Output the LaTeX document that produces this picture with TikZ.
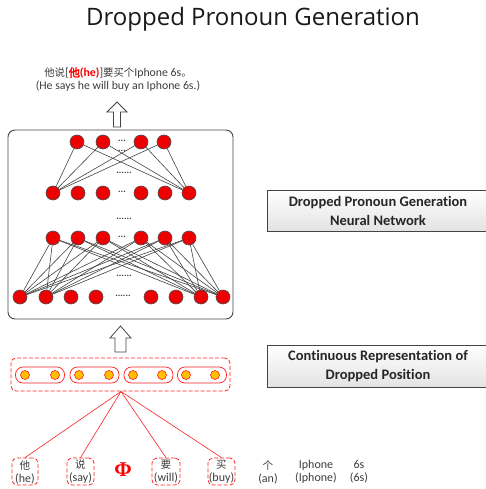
\documentclass[tikz,border=0pt]{standalone}
\usepackage{fontspec}
\setmainfont[Ligatures=NoCommon]{Carlito}
\newfontfamily\cjk[Scale=0.88]{Noto Sans CJK SC}
\newfontfamily\cjkbold[FakeBold=3,Scale=0.95]{Noto Sans CJK SC}
\newfontfamily\titlefont{Open Sans}
\newfontfamily\phifont{Liberation Serif}
\definecolor{txtgray}{HTML}{3C3C3C}
\definecolor{linegray}{HTML}{444444}
\definecolor{neuronred}{HTML}{EE0000}
\definecolor{orangefill}{HTML}{FFC000}
\definecolor{repred}{HTML}{FF2020}
\begin{document}
\begin{tikzpicture}[x=1pt,y=-1pt,
  neuron/.style={circle,fill=neuronred,draw=gray!60!black,line width=0.6pt,minimum size=14pt,inner sep=0pt},
  conn/.style={draw=linegray,line width=0.6pt},
  dotsnode/.style={text=txtgray,font=\fontsize{9.5}{9}\selectfont\bfseries,inner sep=0pt},
  hollow/.style={draw=linegray,fill=white,line width=0.8pt,line join=miter},
  netbox/.style={draw=linegray,fill=white,rounded corners=7pt,line width=0.9pt,minimum width=225pt,minimum height=189pt,inner sep=0pt},
  dashbox/.style={draw=repred,dashed,dash pattern=on 4pt off 2pt,rounded corners=5pt,line width=0.8pt,inner sep=0pt},
  pillbox/.style={draw=repred,rounded corners=7.5pt,line width=0.7pt,minimum width=49pt,minimum height=16pt,inner sep=0pt},
  orange/.style={circle,fill=orangefill,draw=repred,line width=0.6pt,minimum size=9pt,inner sep=0pt},
  redline/.style={draw=repred,line width=0.6pt},
  rbox/.style={draw=linegray,line width=0.8pt,top color=white,bottom color=gray!22,minimum width=222pt,align=center,inner sep=0pt,font=\fontsize{14.5}{19}\selectfont\bfseries,text=black!85},
  word/.style={align=center,text=txtgray,font=\fontsize{12}{13}\selectfont,inner sep=0pt},
  small/.style={text=txtgray,font=\fontsize{11.8}{12}\selectfont,inner sep=0pt}
]
\useasboundingbox (0,0) rectangle (486,489);

% title
\node (title) [font=\titlefont\fontsize{24}{26}\selectfont,text=black!90] at (253,19) {Dropped Pronoun Generation};

% top output text
\node (out1) [small] at (118,73) {{\cjk 他说}[{\color{red}{\cjkbold 他}\textbf{(he)}}]{\cjk 要买个}Iphone 6s{\cjk 。}};
\node (out2) [small] at (118,86) {(He says he will buy an Iphone 6s.)};

% arrow to output
\draw[hollow] (117,102) -- (127,112) -- (120.5,112) -- (120.5,127) -- (113.5,127) -- (113.5,112) -- (107,112) -- cycle;

% network box
\node (net) [netbox] at (120.5,224.5) {};

% layers
\foreach \x [count=\i] in {77,103,141,164}
  \node (t\i) [neuron] at (\x,142) {};
\foreach \x [count=\i] in {53,78,103,141,165,189}
  \node (u\i) [neuron] at (\x,193) {};
\foreach \x [count=\i] in {53,78,103,141,165,189}
  \node (v\i) [neuron] at (\x,238) {};
\foreach \x [count=\i] in {20,46,71,96,151,176,201,223}
  \node (w\i) [neuron] at (\x,297) {};

% connections
\foreach \i in {1,...,4}
  \foreach \j in {1,6}
    \draw[conn] (t\i) -- (u\j);
\foreach \i in {1,...,6}
  \foreach \j in {1,2,7,8}
    \draw[conn] (v\i) -- (w\j);

% dots
\node (d1) [dotsnode] at (122,141) {...};
\node (d2) [dotsnode] at (122,151) {...};
\node (d3) [dotsnode] at (124,173) {......};
\node (d4) [dotsnode] at (122,192) {...};
\node (d5) [dotsnode] at (124,219) {......};
\node (d6) [dotsnode] at (122,237) {...};
\node (d7) [dotsnode] at (124,276) {......};
\node (d8) [dotsnode] at (123,296) {......};

% arrow to network
\draw[hollow] (120.5,326) -- (131,338) -- (126,338) -- (126,352) -- (115,352) -- (115,338) -- (110,338) -- cycle;

% representation
\node (rep) [dashbox,minimum width=219pt,minimum height=33pt] at (120.5,374.5) {};
\foreach \x [count=\i] in {40,94.5,148.5,202}
  \node (g\i) [pillbox] at (\x,375) {};
\foreach \x [count=\i] in {25,55,79,109,133,162,186,215}
  \node (o\i) [orange] at (\x,375) {};
\coordinate (conv) at (121,391.5);

% words
\node (b1) [dashbox,minimum width=26pt,minimum height=27pt] at (25,471.5) {};
\node (b2) [dashbox,minimum width=27pt,minimum height=27pt] at (80.5,471.5) {};
\node (b3) [dashbox,minimum width=28pt,minimum height=27pt] at (166,471.5) {};
\node (b4) [dashbox,minimum width=27pt,minimum height=27pt] at (221.5,471.5) {};
\node (w1t) [word] at (25,472) {{\cjk 他}\\(he)};
\node (w2t) [word] at (80.5,472) {{\cjk 说}\\(say)};
\node (phi) [text=red,font=\phifont\bfseries\fontsize{21}{21}\selectfont,inner sep=0pt] at (123,470) {Φ};
\node (w3t) [word] at (166,472) {{\cjk 要}\\(will)};
\node (w4t) [word] at (221.5,472) {{\cjk 买}\\(buy)};
\node (w5t) [word] at (268,472) {{\cjk 个}\\(an)};
\node (w6t) [word] at (316,472) {Iphone\\(Iphone)};
\node (w7t) [word] at (359,472) {6s\\(6s)};

\foreach \i in {1,...,4}
  \draw[redline] (conv) -- (b\i.north);

% right boxes
\node (lab1) [rbox,minimum height=41pt] at (378,210.5) {Dropped Pronoun Generation\\Neural Network};
\node (lab2) [rbox,minimum height=42pt] at (378,366) {Continuous Representation of\\Dropped Position};
\end{tikzpicture}
\end{document}
